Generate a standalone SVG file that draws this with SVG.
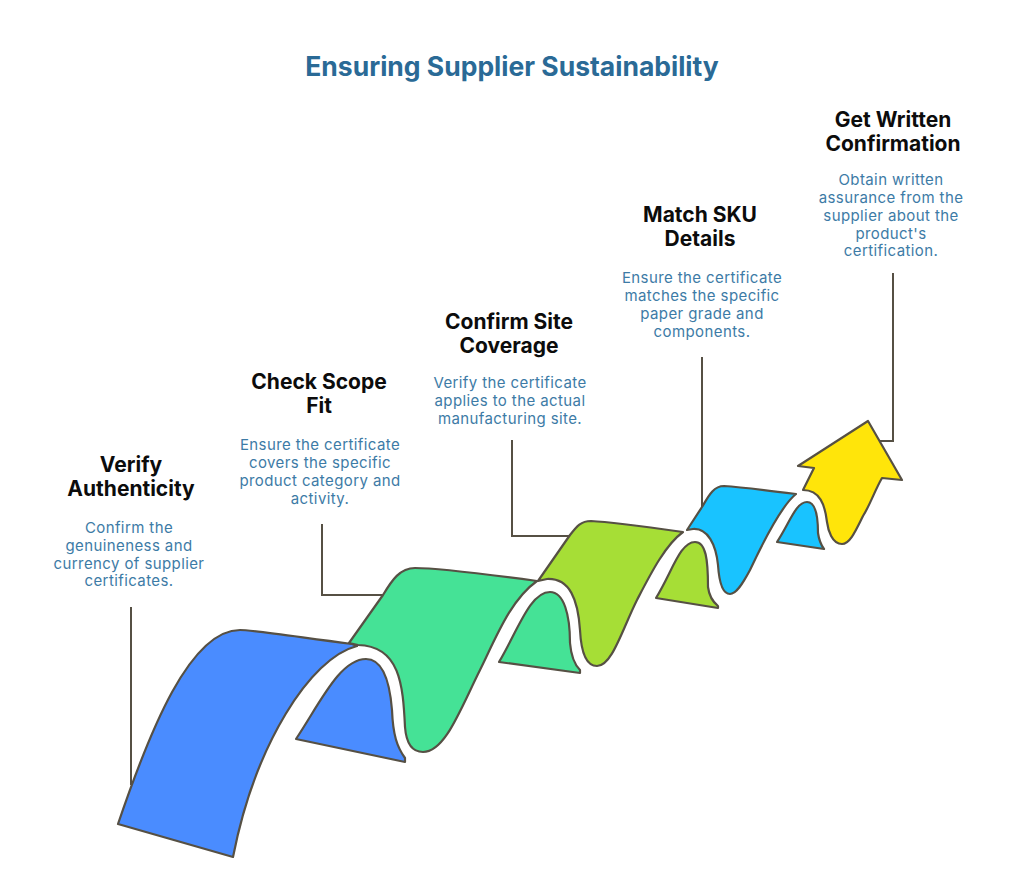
<svg xmlns="http://www.w3.org/2000/svg" width="1024" height="882" viewBox="0 0 1024 882">
<style>
text{font-family:"Inter","Noto Sans","Liberation Sans",sans-serif;text-anchor:middle}
.t{font-size:26.5px;font-weight:700;fill:#2a6a96}
.h{font-size:21px;font-weight:700;fill:#0c0c0c}
.d{font-size:15px;letter-spacing:.4px;fill:#3d7ba6}
.s{stroke:#565044;stroke-width:2.2;stroke-linejoin:round;stroke-linecap:round}
.c{fill:none;stroke:#565044;stroke-width:2}
</style>
<rect width="1024" height="882" fill="#fff"/>
<text class="t" x="512" y="76">Ensuring Supplier Sustainability</text>
<g id="connectors">
<path class="c" d="M131,607V785"/>
<path class="c" d="M322,524V595H383"/>
<path class="c" d="M512,440V536H570"/>
<path class="c" d="M702,357V507"/>
<path class="c" d="M893,273V441H880"/>
</g>
<g id="step1">
<path class="s" fill="#4a8cff" d="M118,824C150,730 190,630 240,630C250,630 262,632 352,644L357,646C310,658 255,745 233,857Z"/>
<path class="s" fill="#4a8cff" d="M296,739C320,703 340,659 366,659C384,659 390,685 392,710C393,735 397,747 405,758L405,762Z"/>
<text class="h" x="131" y="472">Verify</text><text class="h" x="131" y="496">Authenticity</text>
<text class="d" x="129" y="533">Confirm the</text><text class="d" x="129" y="551">genuineness and</text><text class="d" x="129" y="569">currency of supplier</text><text class="d" x="129" y="586">certificates.</text>
</g>
<g id="step2">
<path class="s" fill="#45e296" d="M349,643L383,595C392,580 400,568 415,568C428,568 470,572 537,581C510,600 495,640 480,670C460,710 445,752 423,752C410,752 406,740 405,727C403,685 400,646 358,645Z"/>
<path class="s" fill="#45e296" d="M499,662C518,630 530,592 550,592C564,592 570,615 570,643C571,655 575,665 580,670L580,673Z"/>
<text class="h" x="319" y="389">Check Scope</text><text class="h" x="319" y="413">Fit</text>
<text class="d" x="320" y="450">Ensure the certificate</text><text class="d" x="320" y="468">covers the specific</text><text class="d" x="320" y="486">product category and</text><text class="d" x="320" y="504">activity.</text>
</g>
<g id="step3">
<path class="s" fill="#a6de36" d="M538,581L570,535C577,526 581,521 591,521C610,522 640,526 683,532C665,545 650,575 637,600C622,630 612,666 597,666C585,666 581,650 580,630C578,600 570,578 547,579Z"/>
<path class="s" fill="#a6de36" d="M656,598C672,572 680,542 695,542C706,542 708,560 708,587C709,595 713,602 718,606L718,608Z"/>
<text class="h" x="509" y="329">Confirm Site</text><text class="h" x="509" y="353">Coverage</text>
<text class="d" x="510" y="388">Verify the certificate</text><text class="d" x="510" y="406">applies to the actual</text><text class="d" x="510" y="424">manufacturing site.</text>
</g>
<g id="step4">
<path class="s" fill="#19c3ff" d="M687,530L702,507C708,497 713,486 724,486C740,487 765,490 796,494C782,505 765,538 750,570C742,585 736,594 730,594C722,594 719,580 718,565C716,545 708,528 693,529Z"/>
<path class="s" fill="#19c3ff" d="M777,542C790,522 796,502 807,502C815,502 818,515 818,533C819,540 821,545 824,549Z"/>
<text class="h" x="700" y="222">Match SKU</text><text class="h" x="700" y="246">Details</text>
<text class="d" x="702" y="283">Ensure the certificate</text><text class="d" x="702" y="301">matches the specific</text><text class="d" x="702" y="319">paper grade and</text><text class="d" x="702" y="337">components.</text>
</g>
<g id="step5">
<path class="s" fill="#ffe50a" d="M803,490L814,468L798,466L868,421L902,480L882,478C875,490 870,505 863,516C856,530 850,544 842,544C832,544 828,530 827,522C825,505 820,490 803,490Z"/>
<text class="h" x="893" y="127">Get Written</text><text class="h" x="893" y="151">Confirmation</text>
<text class="d" x="891" y="185">Obtain written</text><text class="d" x="891" y="203">assurance from the</text><text class="d" x="891" y="221">supplier about the</text><text class="d" x="891" y="239">product's</text><text class="d" x="891" y="256">certification.</text>
</g>
</svg>
